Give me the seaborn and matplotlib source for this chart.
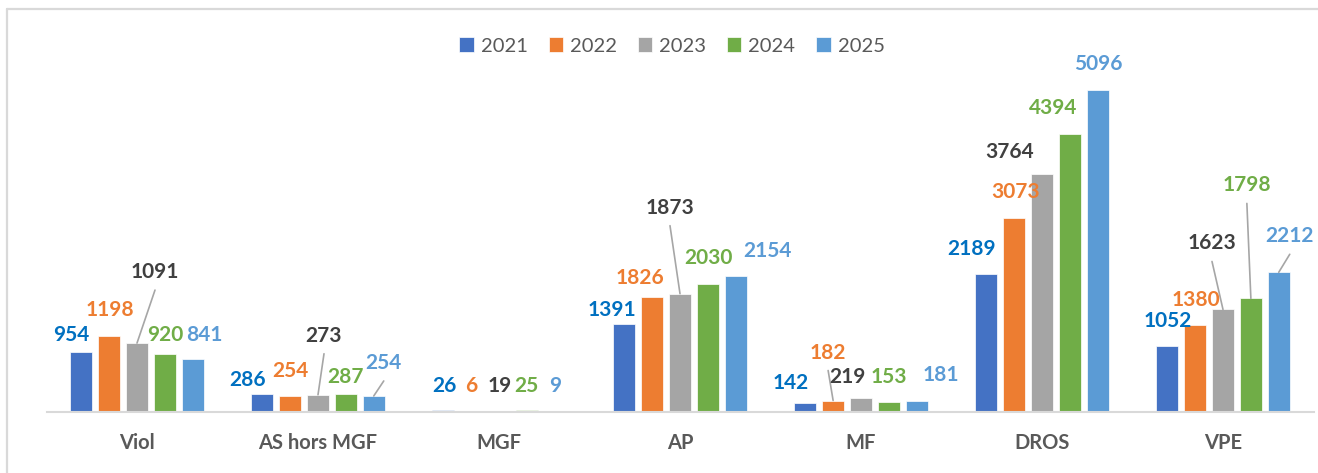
import matplotlib
matplotlib.use("Agg")
import matplotlib.pyplot as plt
from matplotlib.lines import Line2D
import seaborn as sns
import pandas as pd

# ---- data ----
categories = ["Viol", "AS hors MGF", "MGF", "AP", "MF", "DROS", "VPE"]
years = ["2021", "2022", "2023", "2024", "2025"]
v2021 = [954, 286, 26, 1391, 142, 2189, 1052]
v2022 = [1198, 254, 6, 1826, 182, 3073, 1380]
v2023 = [1091, 273, 19, 1873, 219, 3764, 1623]
v2024 = [920, 287, 25, 2030, 153, 4394, 1798]
v2025 = [841, 254, 9, 2154, 181, 5096, 2212]
series = [v2021, v2022, v2023, v2024, v2025]

# ---- styles ----
bar_colors = ["#4472C4", "#ED7D31", "#A5A5A5", "#70AD47", "#5B9BD5"]
label_colors = ["#0070C0", "#ED7D31", "#404040", "#70AD47", "#5B9BD5"]
# label offsets (pixels) relative to bar top centre, per year then category
label_dx = [
    [-10, -15, 1, -12, -15, -15, 1],
    [1, 0, 0, -12, -5, 1, 1],
    [18, 6, 1, -10, -14, -32, -11],
    [0, 0, 0, 1, 0, -17, -4],
    [12, 10, 0, 32, 24, 1, 11],
]
label_dy = [
    [17, 14, 24, 14, 20, 25, 25],
    [26, 25, 26, 19, 48, 26, 25],
    [71, 59, 25, 86, 21, 22, 66],
    [19, 17, 24, 26, 25, 26, 113],
    [24, 33, 25, 25, 26, 26, 36],
]
leaders = {(2, 0), (2, 1), (4, 1), (2, 3), (1, 4), (2, 6), (3, 6), (4, 6)}

rows = []
for y, vals in zip(years, series):
    for c, v in zip(categories, vals):
        rows.append({"cat": c, "year": y, "val": v})
df = pd.DataFrame(rows)

sns.set_style("white")
plt.rcParams["font.family"] = ["Lato", "DejaVu Sans"]

W, H = 1318, 473
fig = plt.figure(figsize=(W / 100, H / 100), dpi=100)
ax = fig.add_axes([46.5 / W, (H - 412) / H, 1267 / W, 379 / H])

sns.barplot(data=df, x="cat", y="val", hue="year", order=categories,
            hue_order=years, palette=bar_colors, saturation=1,
            width=0.77, gap=0.2, edgecolor="white", linewidth=0.5, ax=ax)

ax.set_ylim(0, 6000)
ax.set_xlim(-0.5, len(categories) - 0.5)
ax.set_xlabel("")
ax.set_ylabel("")
ax.set_yticks([])
for s in ["top", "left", "right"]:
    ax.spines[s].set_visible(False)
ax.spines["bottom"].set_color("#D9D9D9")
ax.spines["bottom"].set_linewidth(1.5)
ax.tick_params(axis="x", length=0, pad=15)
for t in ax.get_xticklabels():
    t.set_fontsize(14.5)
    t.set_fontweight("bold")
    t.set_color("#595959")

# data labels
for j, cont in enumerate(ax.containers):
    for i, bar in enumerate(cont):
        bx = bar.get_x() + bar.get_width() / 2
        top = bar.get_height()
        dx, dy = label_dx[j][i], label_dy[j][i]
        ax.annotate(f"{series[j][i]}", xy=(bx, top), xytext=(dx, dy),
                    textcoords="offset pixels", ha="center", va="center",
                    fontsize=15, fontweight="bold", color=label_colors[j],
                    annotation_clip=False)
        if (j, i) in leaders:
            ax.annotate("", xy=(bx, top), xytext=(dx, dy - 18),
                        textcoords="offset pixels",
                        arrowprops=dict(arrowstyle="-", color="#A6A6A6", lw=1.2,
                                        shrinkA=0, shrinkB=0),
                        annotation_clip=False)

# legend
handles, labels = ax.get_legend_handles_labels()
if ax.legend_:
    ax.legend_.remove()
fig.legend(handles, labels, loc="center", bbox_to_anchor=(672 / W, 1 - 46 / H),
           ncol=5, frameon=False, fontsize=14.5, handlelength=0.7,
           handleheight=0.7, handletextpad=0.35, columnspacing=1.05,
           labelcolor="#595959", borderaxespad=0)

# chart border
fig.add_artist(Line2D([7 / W, 7 / W], [0, 1 - 9 / H], transform=fig.transFigure,
                      color="#D9D9D9", lw=1.6))
fig.add_artist(Line2D([7 / W, 1], [1 - 9 / H, 1 - 9 / H], transform=fig.transFigure,
                      color="#D9D9D9", lw=1.6))

fig.savefig("out.png", dpi=100)
